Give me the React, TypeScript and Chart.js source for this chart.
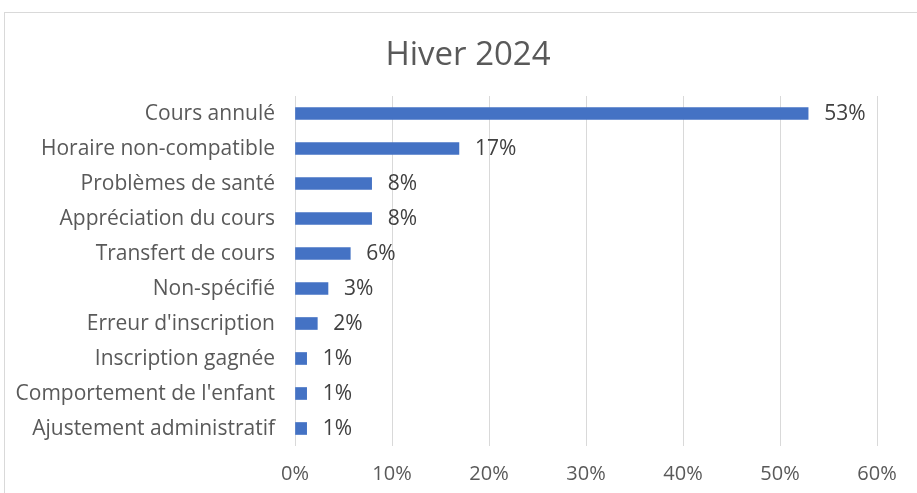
import React, { useEffect, useRef } from "react";
import { Chart, registerables } from "chart.js";

Chart.register(...registerables);

const TITLE = "Hiver 2024";
const categories = [
  "Cours annulé",
  "Horaire non-compatible",
  "Problèmes de santé",
  "Appréciation du cours",
  "Transfert de cours",
  "Non-spécifié",
  "Erreur d'inscription",
  "Inscription gagnée",
  "Comportement de l'enfant",
  "Ajustement administratif",
];
const values = [52.9, 16.9, 7.9, 7.9, 5.7, 3.4, 2.3, 1.2, 1.2, 1.2];
const xTickMax = 60;
const xTickStep = 10;

const FONT = "'Open Sans'";
const TEXT = "#595959";

export default function App() {
  const ref = useRef<HTMLCanvasElement | null>(null);
  useEffect(() => {
    if (!ref.current) return;
    const framePlugin = {
      id: "frame",
      beforeDraw(chart: any) {
        const ctx = chart.ctx;
        ctx.save();
        ctx.fillStyle = "#ffffff";
        ctx.fillRect(0, 0, chart.width, chart.height);
        ctx.strokeStyle = "#D9D9D9";
        ctx.lineWidth = 1;
        ctx.strokeRect(4.5, 12.5, 940, 520);
        ctx.fillStyle = TEXT;
        ctx.font = `33px ${FONT}`;
        ctx.textAlign = "center";
        ctx.textBaseline = "middle";
        ctx.fillText(TITLE, 468, 56);
        ctx.restore();
      },
      afterDatasetsDraw(chart: any) {
        const ctx = chart.ctx;
        const meta = chart.getDatasetMeta(0);
        ctx.save();
        ctx.fillStyle = "#404040";
        ctx.font = `21px ${FONT}`;
        ctx.textAlign = "left";
        ctx.textBaseline = "middle";
        meta.data.forEach((bar: any, i: number) => {
          ctx.fillText(`${Math.round(values[i])}%`, bar.x + 16, bar.y + 1);
        });
        ctx.restore();
      },
    };
    const chart = new Chart(ref.current, {
      type: "bar",
      data: {
        labels: categories,
        datasets: [
          {
            data: values,
            backgroundColor: "#4472C4",
            barThickness: 12,
          },
        ],
      },
      options: {
        indexAxis: "y",
        animation: false,
        responsive: false,
        devicePixelRatio: 1,
        layout: { padding: { top: 96, right: 40, bottom: 0, left: 0 } },
        plugins: { legend: { display: false }, title: { display: false }, tooltip: { enabled: false } },
        scales: {
          x: {
            min: 0,
            max: xTickMax,
            grid: { color: "#D9D9D9", drawTicks: false, lineWidth: 1 },
            border: { display: false },
            ticks: {
              stepSize: xTickStep,
              color: TEXT,
              font: { family: FONT, size: 20 },
              padding: 16,
              callback: (v: any) => `${v}%`,
            },
            afterFit(scale: any) {
              scale.height = 47;
            },
          },
          y: {
            grid: { display: false, drawTicks: false },
            border: { display: false },
            ticks: {
              color: TEXT,
              font: { family: FONT, size: 21 },
              padding: 20,
              labelOffset: 1,
            },
            afterFit(scale: any) {
              scale.width = 295;
            },
          },
        },
      },
      plugins: [framePlugin],
    });
    return () => chart.destroy();
  }, []);
  return (
    <div style={{ position: "fixed", left: 0, top: 0, width: 917, height: 493 }}>
      <canvas ref={ref} width={917} height={493} style={{ display: "block" }} />
    </div>
  );
}
